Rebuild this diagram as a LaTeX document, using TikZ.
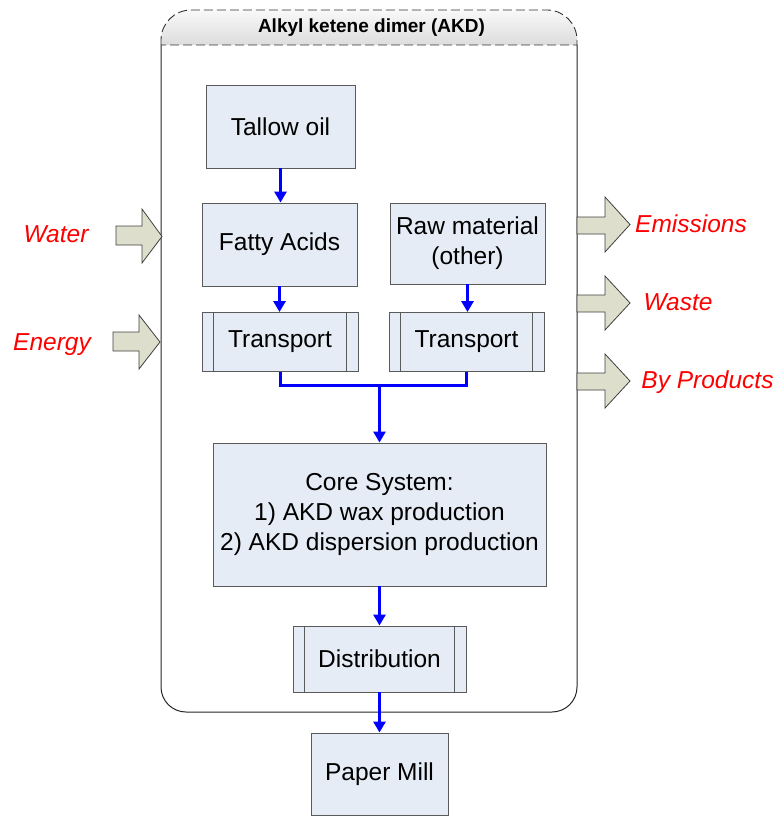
\documentclass[tikz,border=0pt]{standalone}
\usepackage{fontspec}
\setmainfont{Liberation Sans}
\usetikzlibrary{arrows.meta}

\definecolor{boxfill}{HTML}{E6ECF6}
\definecolor{boxline}{HTML}{5A5A5A}
\definecolor{blockfill}{HTML}{DDDFCC}
\definecolor{flowblue}{HTML}{0000FF}
\definecolor{labelred}{HTML}{FF0000}

\newcommand{\mainsz}{\fontsize{24.5}{30}\selectfont}

\begin{document}
\begin{tikzpicture}[x=1pt,y=-1pt,
  box/.style={draw=boxline, fill=boxfill, line width=0.9pt, font=\mainsz,
              align=center, inner sep=0pt},
  proc/.style={box, path picture={
      \draw[boxline, line width=0.9pt]
        ([xshift=11.5pt]path picture bounding box.north west) --
        ([xshift=11.5pt]path picture bounding box.south west)
        ([xshift=-11.5pt]path picture bounding box.north east) --
        ([xshift=-11.5pt]path picture bounding box.south east);}},
  flow/.style={flowblue, line width=3pt},
  flowarrow/.style={flow, -{Triangle[width=12pt,length=11pt]}},
  blockarrow/.style={draw=black!75, fill=blockfill, line width=0.8pt, line join=miter},
  sidelabel/.style={text=labelred, font=\mainsz\itshape, anchor=base, inner sep=0pt},
  frame/.style={draw=black!85, line width=1pt}
]
\useasboundingbox (0,0) rectangle (779,816);

% system boundary
\path[frame, fill=white]
  (161,45) -- (161,687) arc[start angle=180, end angle=90, radius=25]
  -- (552,712) arc[start angle=90, end angle=0, radius=25] -- (577,45);
% title band
\path[draw=black!80, line width=0.9pt, dash pattern=on 9pt off 4pt,
      top color=gray!5, bottom color=gray!27]
  (161,45) -- (161,40) arc[start angle=180, end angle=270, radius=30]
  -- (547,10) arc[start angle=270, end angle=360, radius=30] -- (577,45) -- cycle;
\node[font=\bfseries\fontsize{19}{22}\selectfont, anchor=base, inner sep=0pt]
  (title) at (371.5,33) {Alkyl ketene dimer (AKD)};

% process steps
\node[box, minimum width=149pt, minimum height=83pt] (tallow) at (280.5,126.5) {Tallow oil};
\node[box, minimum width=155pt, minimum height=83pt] (fatty) at (279.5,244.5) {Fatty Acids};
\node[box, minimum width=155pt, minimum height=81pt] (raw) at (467.5,243.5) {Raw material\\(other)};
\node[proc, minimum width=156pt, minimum height=59pt] (transL) at (280,342) {Transport};
\node[proc, minimum width=155pt, minimum height=59pt] (transR) at (466.5,342) {Transport};
\node[box, minimum width=333pt, minimum height=143pt] (core) at (379.5,514.5)
  {Core System:\\1) AKD wax production\\2) AKD dispersion production};
\node[proc, minimum width=173pt, minimum height=66pt] (dist) at (379.5,659) {Distribution};
\node[box, minimum width=137pt, minimum height=82pt] (mill) at (379.5,774) {Paper Mill};

% material flow
\coordinate (join) at (379.5,385);
\draw[flowarrow] (tallow.south) -- (fatty.north -| tallow.south);
\draw[flowarrow] (fatty.south) -- (transL.north -| fatty.south);
\draw[flowarrow] (raw.south) -- (transR.north -| raw.south);
\draw[flow] (transL.south) |- (join);
\draw[flow] (transR.south) |- (join);
\draw[flowarrow] (join) -- (core.north);
\draw[flowarrow] (core.south) -- (dist.north);
\draw[flowarrow] (dist.south) -- (mill.north);

% inputs
\draw[blockarrow] (116,226) -- (142,226) -- (142,209) -- (162,236.5)
  -- (142,263) -- (142,245) -- (116,245) -- cycle;
\draw[blockarrow] (113,332) -- (139,332) -- (139,315) -- (160,342)
  -- (139,369) -- (139,351) -- (113,351) -- cycle;
\node[sidelabel] (water) at (56,242) {Water};
\node[sidelabel] (energy) at (52,350) {Energy};

% outputs
\draw[blockarrow] (577,217) -- (605,217) -- (605,197) -- (630,224.5)
  -- (605,252) -- (605,234) -- (577,234) -- cycle;
\draw[blockarrow] (577,295) -- (605,295) -- (605,276) -- (630,303)
  -- (605,330) -- (605,312) -- (577,312) -- cycle;
\draw[blockarrow] (577,373) -- (605,373) -- (605,354) -- (630,381)
  -- (605,408) -- (605,390) -- (577,390) -- cycle;
\node[sidelabel] (emis) at (691,232) {Emissions};
\node[sidelabel] (waste) at (678,310) {Waste};
\node[sidelabel] (byprod) at (707.5,388) {By Products};
\end{tikzpicture}
\end{document}
